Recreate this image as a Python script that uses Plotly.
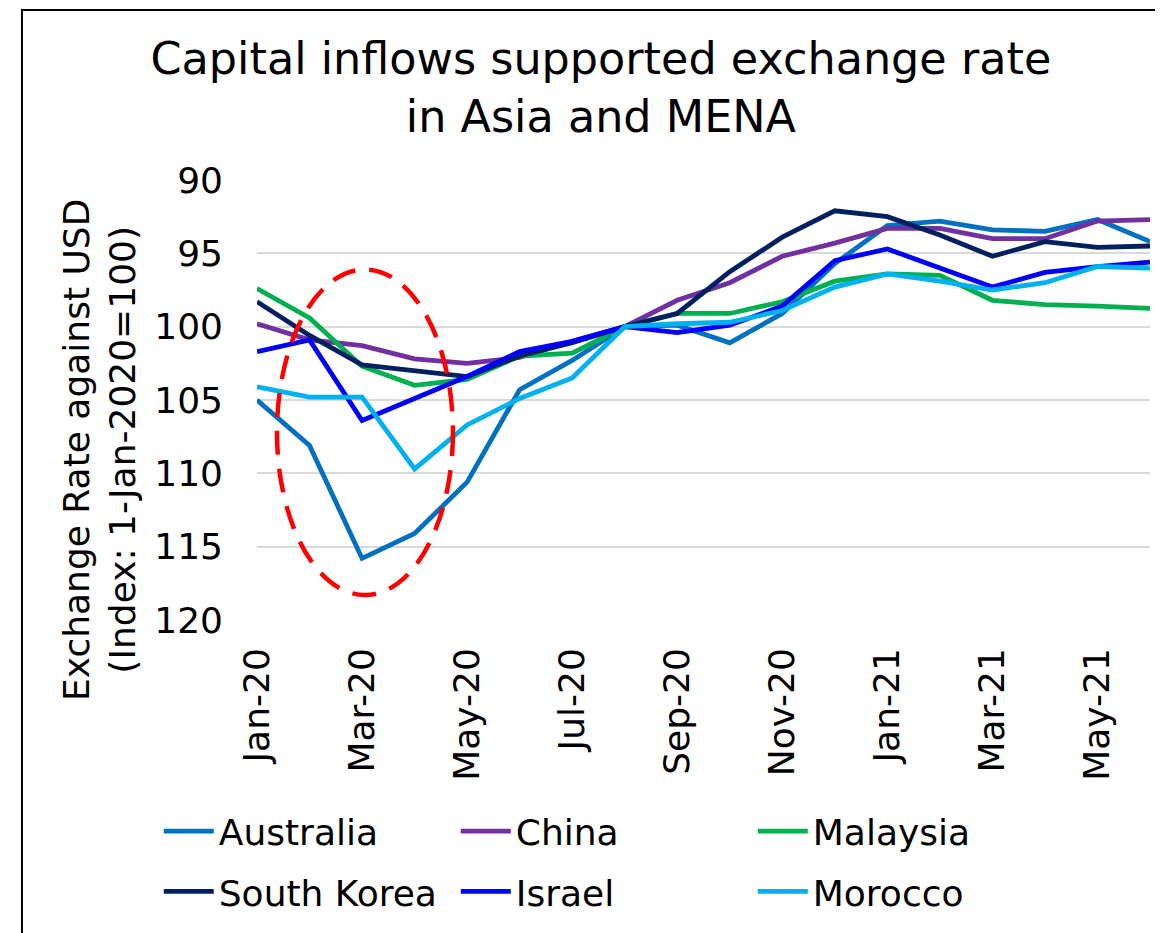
import plotly.graph_objects as go

months = ["Jan-20", "Feb-20", "Mar-20", "Apr-20", "May-20", "Jun-20", "Jul-20", "Aug-20",
          "Sep-20", "Oct-20", "Nov-20", "Dec-20", "Jan-21", "Feb-21", "Mar-21", "Apr-21",
          "May-21", "Jun-21"]
tick_labels = months[::2]

australia = [105.0, 108.1, 115.8, 114.1, 110.6, 104.3, 102.3, 100.0, 99.9, 101.1, 99.1, 95.7,
             93.1, 92.8, 93.4, 93.5, 92.7, 94.2]
china = [99.8, 100.9, 101.3, 102.2, 102.5, 102.1, 101.0, 100.0, 98.2, 97.0, 95.2, 94.3,
         93.3, 93.3, 94.0, 94.0, 92.8, 92.7]
malaysia = [97.4, 99.4, 102.7, 104.0, 103.6, 102.0, 101.8, 100.0, 99.1, 99.1, 98.3, 96.9,
            96.4, 96.5, 98.2, 98.5, 98.6, 98.75]
south_korea = [98.3, 100.6, 102.6, 103.0, 103.4, 102.0, 101.1, 100.0, 99.1, 96.25, 93.9, 92.1,
               92.5, 93.75, 95.2, 94.2, 94.6, 94.5]
israel = [101.7, 100.9, 106.4, 104.9, 103.4, 101.7, 101.0, 100.0, 100.4, 99.9, 98.6, 95.5,
          94.7, 96.0, 97.3, 96.3, 95.9, 95.6]
morocco = [104.1, 104.8, 104.8, 109.7, 106.7, 104.9, 103.5, 100.0, 99.8, 99.7, 98.9, 97.3,
           96.4, 96.9, 97.5, 97.0, 95.9, 96.0]

series = [
    ("Australia", australia, "#0070C0", "legend"),
    ("China", china, "#7030A0", "legend"),
    ("Malaysia", malaysia, "#00B050", "legend"),
    ("South Korea", south_korea, "#002060", "legend2"),
    ("Israel", israel, "#0000FF", "legend2"),
    ("Morocco", morocco, "#00B0F0", "legend2"),
]

y_ticks = [90, 95, 100, 105, 110, 115, 120]
baseline = 100
# highlight ellipse (category index / index value)
ellipse_x = (0.38, 3.73)
ellipse_y = (96.1, 118.3)

FONT = "DejaVu Sans"
FS = 36

fig = go.Figure()
for name, vals, color, lg in series:
    fig.add_trace(go.Scatter(x=list(range(len(months))), y=vals, name=name, mode="lines",
                             line=dict(color=color, width=4.8), legend=lg))

legend_common = dict(orientation="h", xanchor="left", yanchor="top",
                     entrywidth=232, entrywidthmode="pixels",
                     font=dict(family=FONT, size=FS, color="black"),
                     bgcolor="rgba(0,0,0,0)", itemwidth=50)

fig.update_layout(
    width=1163, height=933,
    paper_bgcolor="white", plot_bgcolor="white",
    margin=dict(l=249, r=21, t=172, b=321),
    font=dict(family=FONT, color="black"),
    title=dict(text="Capital inflows supported exchange rate<br>in Asia and MENA",
               x=0.5098, xanchor="center", y=0.929, yanchor="top",
               font=dict(family=FONT, size=44.5, color="black")),
    xaxis=dict(range=[0, len(months) - 1], tickmode="array",
               tickvals=list(range(0, len(months), 2)), ticktext=tick_labels,
               tickangle=-90, tickfont=dict(size=FS, color="black"),
               showgrid=False, zeroline=False, showline=False, ticks="",
               ticklabelstandoff=20),
    yaxis=dict(range=[120, 90], tickmode="array", tickvals=y_ticks,
               ticktext=[str(v) for v in y_ticks], tickfont=dict(size=FS, color="black"),
               showgrid=True, gridcolor="#D9D9D9", gridwidth=2, zeroline=False,
               showline=False, ticks="", ticklabelstandoff=33),
    legend=dict(x=-0.110, y=-0.412, **legend_common),
    legend2=dict(x=-0.110, y=-0.549, **legend_common),
    showlegend=True,
)

fig.add_annotation(text="Exchange Rate against USD<br>(Index: 1-Jan-2020=100)",
                   xref="paper", yref="paper", x=-0.176, y=0.386,
                   xanchor="center", yanchor="middle", textangle=-90, showarrow=False,
                   font=dict(family=FONT, size=FS, color="black"))

fig.add_shape(type="line", xref="paper", x0=0, x1=1, yref="y", y0=baseline, y1=baseline,
              line=dict(color="#595959", width=1.5), layer="below")
fig.add_shape(type="circle", xref="x", yref="y", x0=ellipse_x[0], x1=ellipse_x[1],
              y0=ellipse_y[0], y1=ellipse_y[1],
              line=dict(color="#FF0000", width=4.5, dash="24px,14px"), layer="above")
# chart border (left and top edges visible)
fig.add_shape(type="rect", xref="paper", yref="paper", x0=-0.2632, x1=1.05, y0=-0.8, y1=1.3864,
              line=dict(color="black", width=2), layer="below")

fig.write_html("out.html")
